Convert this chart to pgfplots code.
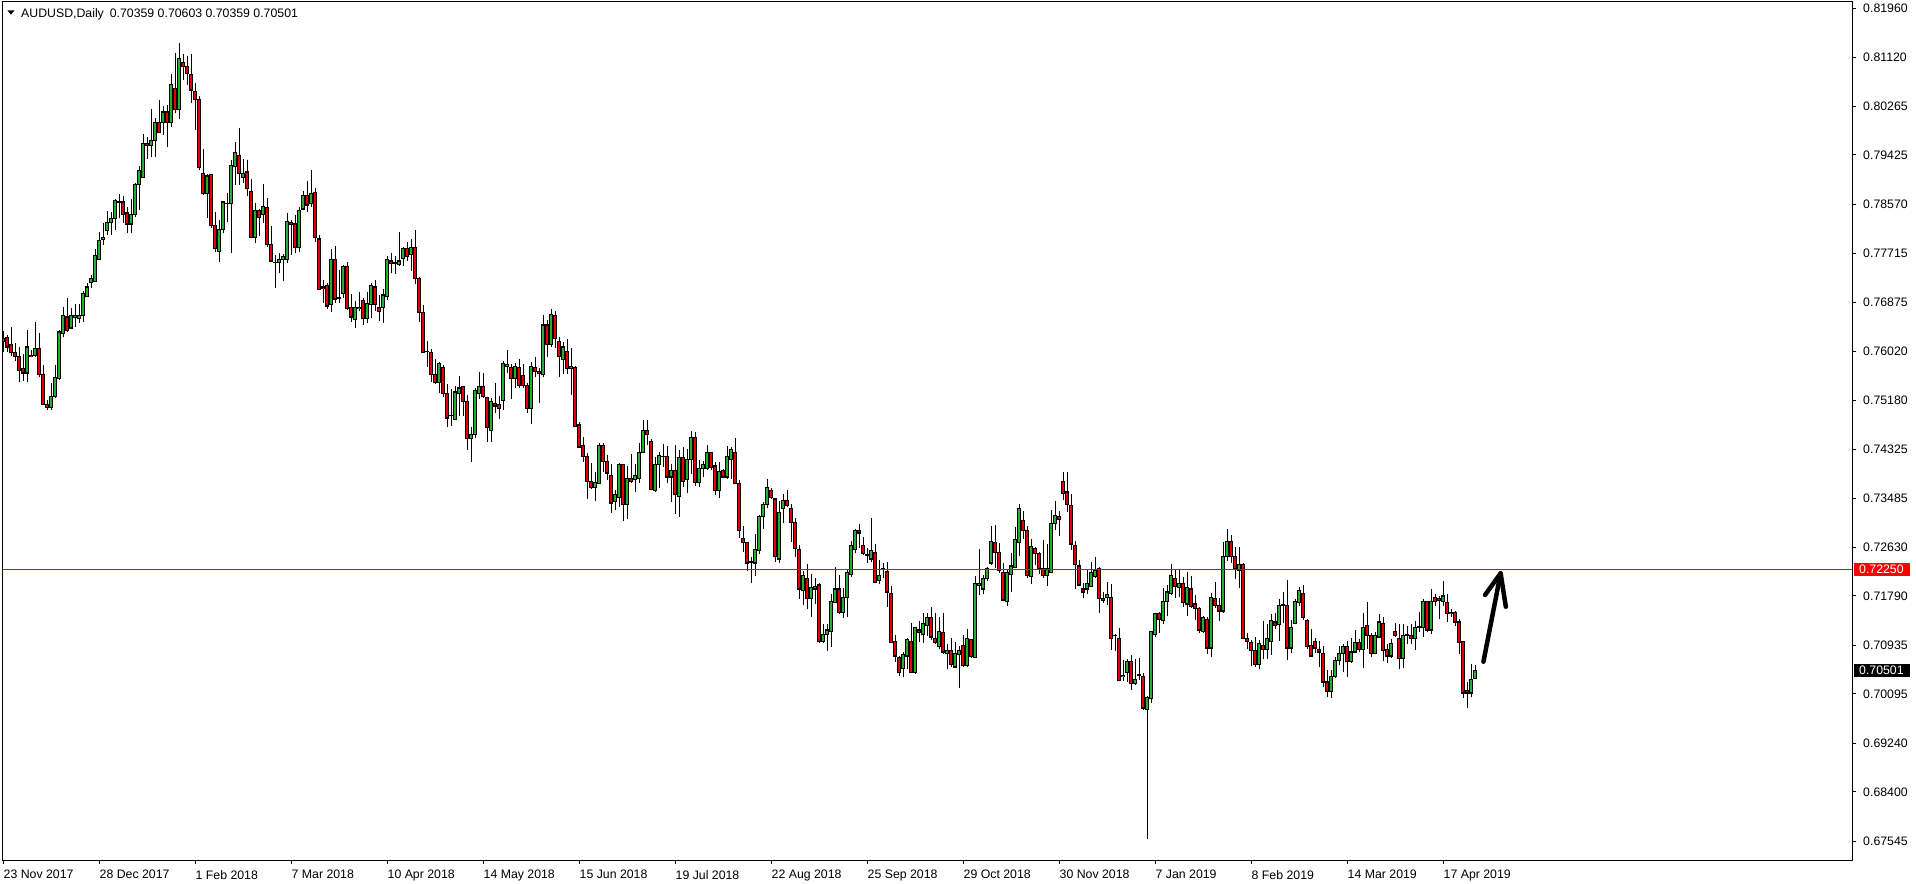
\documentclass[border=0pt]{standalone}
\usepackage{fontspec}
\setmainfont{Liberation Sans}
\usepackage{pgfplots}
\pgfplotsset{compat=1.18}
\usepackage{pgfplotstable}
\definecolor{cgreen}{RGB}{40,175,40}
\definecolor{cred}{RGB}{228,0,0}
\newcommand\lab{\fontsize{12.3bp}{14bp}\selectfont}
\pgfplotstableread{
i o h l c
0 0.7620 0.7638 0.7601 0.7624
1 0.7626 0.7631 0.7601 0.7610
2 0.7615 0.7645 0.7594 0.7601
3 0.7601 0.7617 0.7586 0.7593
4 0.7593 0.7610 0.7549 0.7570
5 0.7572 0.7598 0.7551 0.7565
6 0.7565 0.7640 0.7549 0.7610
7 0.7596 0.7605 0.7593 0.7594
8 0.7596 0.7653 0.7593 0.7608
9 0.7608 0.7634 0.7558 0.7562
10 0.7562 0.7579 0.7510 0.7511
11 0.7511 0.7518 0.7501 0.7506
12 0.7506 0.7548 0.7501 0.7525
13 0.7524 0.7579 0.7522 0.7558
14 0.7556 0.7640 0.7553 0.7636
15 0.7634 0.7679 0.7627 0.7664
16 0.7662 0.7695 0.7636 0.7638
17 0.7643 0.7678 0.7641 0.7665
18 0.7662 0.7685 0.7645 0.7664
19 0.7660 0.7685 0.7652 0.7665
20 0.7664 0.7707 0.7653 0.7702
21 0.7698 0.7721 0.7697 0.7714
22 0.7721 0.7735 0.7712 0.7728
23 0.7724 0.7780 0.7723 0.7769
24 0.7762 0.7809 0.7762 0.7795
25 0.7797 0.7825 0.7787 0.7799
26 0.7811 0.7846 0.7804 0.7826
27 0.7825 0.7844 0.7804 0.7833
28 0.7833 0.7866 0.7813 0.7863
29 0.7861 0.7875 0.7833 0.7862
30 0.7861 0.7871 0.7825 0.7840
31 0.7842 0.7852 0.7807 0.7823
32 0.7823 0.7866 0.7807 0.7840
33 0.7840 0.7894 0.7835 0.7891
34 0.7891 0.7923 0.7847 0.7915
35 0.7904 0.7979 0.7904 0.7963
36 0.7963 0.7974 0.7936 0.7958
37 0.7958 0.8022 0.7939 0.7968
38 0.7968 0.8007 0.7939 0.7998
39 0.7998 0.8038 0.7981 0.7982
40 0.7998 0.8027 0.7977 0.8017
41 0.8017 0.8029 0.7956 0.7998
42 0.7998 0.8083 0.7991 0.8065
43 0.8057 0.8119 0.8015 0.8022
44 0.8022 0.8136 0.8005 0.8109
45 0.8102 0.8117 0.8072 0.8095
46 0.8095 0.8114 0.8064 0.8084
47 0.8081 0.8117 0.8032 0.8055
48 0.8053 0.8067 0.7986 0.8039
49 0.8039 0.8045 0.7917 0.7920
50 0.7911 0.7953 0.7873 0.7875
51 0.7875 0.7910 0.7833 0.7906
52 0.7908 0.7910 0.7816 0.7820
53 0.7821 0.7844 0.7775 0.7781
54 0.7775 0.7830 0.7757 0.7813
55 0.7814 0.7863 0.7807 0.7861
56 0.7858 0.7877 0.7826 0.7859
57 0.7858 0.7934 0.7773 0.7925
58 0.7922 0.7965 0.7891 0.7946
59 0.7942 0.7989 0.7891 0.7910
60 0.7904 0.7936 0.7894 0.7911
61 0.7913 0.7934 0.7871 0.7884
62 0.7880 0.7901 0.7799 0.7800
63 0.7800 0.7859 0.7790 0.7846
64 0.7846 0.7849 0.7802 0.7835
65 0.7840 0.7892 0.7825 0.7854
66 0.7852 0.7868 0.7783 0.7787
67 0.7788 0.7820 0.7758 0.7759
68 0.7757 0.7769 0.7712 0.7756
69 0.7756 0.7773 0.7738 0.7762
70 0.7762 0.7771 0.7724 0.7766
71 0.7762 0.7842 0.7756 0.7828
72 0.7825 0.7830 0.7769 0.7823
73 0.7823 0.7839 0.7773 0.7783
74 0.7783 0.7852 0.7775 0.7846
75 0.7849 0.7880 0.7849 0.7873
76 0.7873 0.7898 0.7844 0.7856
77 0.7858 0.7917 0.7852 0.7875
78 0.7877 0.7885 0.7792 0.7799
79 0.7797 0.7804 0.7709 0.7710
80 0.7714 0.7726 0.7686 0.7712
81 0.7716 0.7721 0.7676 0.7681
82 0.7683 0.7780 0.7671 0.7762
83 0.7762 0.7785 0.7686 0.7693
84 0.7695 0.7743 0.7686 0.7694
85 0.7702 0.7752 0.7695 0.7749
86 0.7749 0.7757 0.7674 0.7676
87 0.7679 0.7702 0.7653 0.7662
88 0.7657 0.7690 0.7643 0.7678
89 0.7676 0.7705 0.7672 0.7679
90 0.7690 0.7695 0.7648 0.7660
91 0.7659 0.7705 0.7652 0.7685
92 0.7683 0.7721 0.7660 0.7716
93 0.7714 0.7726 0.7672 0.7683
94 0.7679 0.7700 0.7655 0.7671
95 0.7678 0.7710 0.7652 0.7700
96 0.7697 0.7768 0.7691 0.7762
97 0.7759 0.7773 0.7738 0.7754
98 0.7756 0.7768 0.7736 0.7755
99 0.7752 0.7809 0.7750 0.7759
100 0.7764 0.7783 0.7750 0.7781
101 0.7780 0.7792 0.7759 0.7766
102 0.7771 0.7797 0.7742 0.7783
103 0.7783 0.7813 0.7719 0.7728
104 0.7729 0.7731 0.7653 0.7669
105 0.7669 0.7683 0.7600 0.7601
106 0.7603 0.7620 0.7575 0.7602
107 0.7601 0.7607 0.7549 0.7563
108 0.7563 0.7589 0.7546 0.7549
109 0.7549 0.7584 0.7530 0.7581
110 0.7575 0.7579 0.7524 0.7529
111 0.7529 0.7546 0.7472 0.7487
112 0.7491 0.7537 0.7473 0.7492
113 0.7485 0.7543 0.7484 0.7532
114 0.7530 0.7560 0.7491 0.7539
115 0.7541 0.7543 0.7491 0.7515
116 0.7515 0.7527 0.7432 0.7451
117 0.7451 0.7472 0.7411 0.7459
118 0.7459 0.7539 0.7452 0.7534
119 0.7529 0.7567 0.7520 0.7541
120 0.7541 0.7565 0.7522 0.7524
121 0.7522 0.7524 0.7446 0.7470
122 0.7466 0.7522 0.7446 0.7515
123 0.7513 0.7548 0.7496 0.7508
124 0.7511 0.7525 0.7485 0.7504
125 0.7517 0.7586 0.7501 0.7582
126 0.7577 0.7605 0.7565 0.7579
127 0.7575 0.7581 0.7520 0.7556
128 0.7556 0.7582 0.7539 0.7577
129 0.7575 0.7589 0.7539 0.7544
130 0.7560 0.7581 0.7539 0.7543
131 0.7544 0.7548 0.7496 0.7504
132 0.7504 0.7584 0.7477 0.7577
133 0.7574 0.7593 0.7558 0.7567
134 0.7567 0.7574 0.7513 0.7565
135 0.7563 0.7665 0.7558 0.7648
136 0.7648 0.7657 0.7593 0.7615
137 0.7615 0.7676 0.7610 0.7667
138 0.7665 0.7672 0.7608 0.7624
139 0.7619 0.7627 0.7558 0.7594
140 0.7589 0.7619 0.7563 0.7610
141 0.7603 0.7624 0.7563 0.7572
142 0.7572 0.7608 0.7527 0.7577
143 0.7575 0.7577 0.7472 0.7473
144 0.7475 0.7480 0.7436 0.7437
145 0.7439 0.7454 0.7411 0.7421
146 0.7421 0.7427 0.7347 0.7378
147 0.7378 0.7409 0.7365 0.7366
148 0.7366 0.7394 0.7343 0.7376
149 0.7373 0.7444 0.7372 0.7440
150 0.7440 0.7444 0.7394 0.7411
151 0.7411 0.7423 0.7380 0.7392
152 0.7388 0.7407 0.7323 0.7340
153 0.7342 0.7362 0.7328 0.7354
154 0.7350 0.7409 0.7333 0.7406
155 0.7406 0.7408 0.7309 0.7338
156 0.7338 0.7404 0.7312 0.7383
157 0.7383 0.7425 0.7375 0.7378
158 0.7380 0.7407 0.7359 0.7387
159 0.7383 0.7444 0.7375 0.7428
160 0.7428 0.7484 0.7427 0.7465
161 0.7465 0.7484 0.7440 0.7458
162 0.7446 0.7450 0.7362 0.7364
163 0.7362 0.7420 0.7359 0.7407
164 0.7407 0.7428 0.7366 0.7423
165 0.7420 0.7442 0.7402 0.7421
166 0.7420 0.7439 0.7375 0.7385
167 0.7385 0.7407 0.7342 0.7397
168 0.7397 0.7440 0.7321 0.7354
169 0.7352 0.7432 0.7316 0.7418
170 0.7418 0.7437 0.7368 0.7378
171 0.7380 0.7433 0.7357 0.7416
172 0.7416 0.7465 0.7390 0.7454
173 0.7454 0.7463 0.7369 0.7375
174 0.7375 0.7414 0.7368 0.7400
175 0.7399 0.7413 0.7385 0.7407
176 0.7400 0.7440 0.7397 0.7428
177 0.7427 0.7428 0.7397 0.7402
178 0.7404 0.7411 0.7354 0.7361
179 0.7361 0.7411 0.7349 0.7395
180 0.7397 0.7399 0.7384 0.7385
181 0.7385 0.7439 0.7382 0.7420
182 0.7416 0.7437 0.7382 0.7432
183 0.7428 0.7452 0.7372 0.7373
184 0.7373 0.7380 0.7279 0.7292
185 0.7279 0.7300 0.7255 0.7272
186 0.7271 0.7272 0.7222 0.7236
187 0.7238 0.7247 0.7201 0.7237
188 0.7236 0.7286 0.7214 0.7260
189 0.7257 0.7319 0.7252 0.7316
190 0.7316 0.7342 0.7295 0.7338
191 0.7338 0.7382 0.7331 0.7366
192 0.7361 0.7366 0.7347 0.7350
193 0.7347 0.7349 0.7238 0.7247
194 0.7243 0.7343 0.7236 0.7324
195 0.7331 0.7356 0.7305 0.7345
196 0.7345 0.7362 0.7333 0.7335
197 0.7331 0.7338 0.7272 0.7307
198 0.7307 0.7314 0.7247 0.7262
199 0.7260 0.7267 0.7174 0.7191
200 0.7189 0.7222 0.7163 0.7214
201 0.7210 0.7234 0.7156 0.7174
202 0.7175 0.7217 0.7143 0.7193
203 0.7191 0.7210 0.7165 0.7196
204 0.7198 0.7201 0.7098 0.7101
205 0.7101 0.7131 0.7098 0.7113
206 0.7113 0.7131 0.7084 0.7120
207 0.7117 0.7182 0.7091 0.7170
208 0.7167 0.7229 0.7167 0.7191
209 0.7191 0.7215 0.7148 0.7150
210 0.7151 0.7193 0.7141 0.7177
211 0.7177 0.7224 0.7143 0.7219
212 0.7217 0.7274 0.7212 0.7266
213 0.7260 0.7295 0.7253 0.7292
214 0.7292 0.7304 0.7262 0.7288
215 0.7266 0.7281 0.7250 0.7252
216 0.7250 0.7262 0.7236 0.7249
217 0.7243 0.7314 0.7238 0.7257
218 0.7255 0.7269 0.7201 0.7203
219 0.7205 0.7241 0.7200 0.7215
220 0.7226 0.7236 0.7210 0.7225
221 0.7222 0.7238 0.7160 0.7186
222 0.7184 0.7196 0.7098 0.7099
223 0.7101 0.7111 0.7065 0.7075
224 0.7073 0.7075 0.7040 0.7047
225 0.7054 0.7082 0.7039 0.7077
226 0.7075 0.7106 0.7052 0.7103
227 0.7101 0.7132 0.7046 0.7047
228 0.7046 0.7125 0.7044 0.7124
229 0.7120 0.7136 0.7099 0.7115
230 0.7113 0.7150 0.7098 0.7131
231 0.7127 0.7150 0.7110 0.7141
232 0.7141 0.7160 0.7103 0.7108
233 0.7106 0.7150 0.7096 0.7098
234 0.7091 0.7143 0.7087 0.7118
235 0.7115 0.7150 0.7079 0.7082
236 0.7080 0.7096 0.7052 0.7085
237 0.7084 0.7106 0.7056 0.7061
238 0.7056 0.7099 0.7054 0.7079
239 0.7077 0.7092 0.7020 0.7085
240 0.7094 0.7111 0.7056 0.7059
241 0.7058 0.7122 0.7056 0.7105
242 0.7103 0.7105 0.7072 0.7074
243 0.7073 0.7214 0.7072 0.7200
244 0.7198 0.7260 0.7181 0.7200
245 0.7191 0.7215 0.7182 0.7210
246 0.7210 0.7229 0.7205 0.7227
247 0.7236 0.7300 0.7233 0.7274
248 0.7272 0.7302 0.7227 0.7255
249 0.7255 0.7271 0.7219 0.7224
250 0.7219 0.7236 0.7170 0.7172
251 0.7169 0.7226 0.7162 0.7219
252 0.7217 0.7253 0.7186 0.7231
253 0.7229 0.7298 0.7227 0.7276
254 0.7272 0.7338 0.7248 0.7330
255 0.7310 0.7326 0.7278 0.7292
256 0.7293 0.7300 0.7210 0.7214
257 0.7212 0.7278 0.7200 0.7264
258 0.7262 0.7264 0.7233 0.7252
259 0.7252 0.7255 0.7217 0.7227
260 0.7227 0.7276 0.7210 0.7215
261 0.7215 0.7269 0.7196 0.7226
262 0.7220 0.7328 0.7219 0.7305
263 0.7305 0.7343 0.7293 0.7319
264 0.7317 0.7326 0.7283 0.7312
265 0.7378 0.7394 0.7345 0.7357
266 0.7359 0.7394 0.7324 0.7338
267 0.7336 0.7356 0.7259 0.7269
268 0.7267 0.7274 0.7191 0.7234
269 0.7231 0.7241 0.7196 0.7198
270 0.7191 0.7201 0.7175 0.7186
271 0.7191 0.7224 0.7182 0.7201
272 0.7196 0.7238 0.7194 0.7219
273 0.7212 0.7247 0.7210 0.7224
274 0.7226 0.7229 0.7150 0.7175
275 0.7175 0.7186 0.7167 0.7172
276 0.7177 0.7203 0.7163 0.7182
277 0.7177 0.7200 0.7085 0.7106
278 0.7110 0.7113 0.7084 0.7111
279 0.7106 0.7124 0.7031 0.7032
280 0.7040 0.7068 0.7032 0.7042
281 0.7047 0.7070 0.7030 0.7066
282 0.7065 0.7077 0.7016 0.7028
283 0.7027 0.7070 0.7025 0.7035
284 0.7042 0.7072 0.7034 0.7043
285 0.7040 0.7046 0.6982 0.6985
286 0.6983 0.7006 0.6758 0.7004
287 0.7002 0.7118 0.6994 0.7117
288 0.7113 0.7150 0.7108 0.7148
289 0.7148 0.7151 0.7115 0.7139
290 0.7136 0.7193 0.7131 0.7170
291 0.7169 0.7198 0.7144 0.7186
292 0.7184 0.7234 0.7181 0.7214
293 0.7210 0.7224 0.7175 0.7196
294 0.7193 0.7226 0.7177 0.7201
295 0.7200 0.7212 0.7160 0.7167
296 0.7165 0.7220 0.7144 0.7193
297 0.7191 0.7214 0.7158 0.7160
298 0.7165 0.7181 0.7137 0.7158
299 0.7158 0.7160 0.7115 0.7120
300 0.7118 0.7144 0.7115 0.7141
301 0.7139 0.7143 0.7079 0.7089
302 0.7089 0.7184 0.7073 0.7177
303 0.7175 0.7203 0.7158 0.7162
304 0.7163 0.7175 0.7136 0.7153
305 0.7153 0.7272 0.7150 0.7247
306 0.7247 0.7295 0.7240 0.7274
307 0.7274 0.7285 0.7236 0.7247
308 0.7247 0.7264 0.7208 0.7226
309 0.7224 0.7264 0.7193 0.7234
310 0.7234 0.7236 0.7105 0.7106
311 0.7106 0.7115 0.7087 0.7101
312 0.7099 0.7103 0.7058 0.7085
313 0.7085 0.7108 0.7056 0.7061
314 0.7061 0.7103 0.7052 0.7096
315 0.7094 0.7136 0.7070 0.7087
316 0.7087 0.7131 0.7070 0.7105
317 0.7101 0.7148 0.7077 0.7137
318 0.7134 0.7150 0.7122 0.7127
319 0.7129 0.7174 0.7101 0.7163
320 0.7163 0.7186 0.7132 0.7164
321 0.7163 0.7207 0.7068 0.7089
322 0.7089 0.7137 0.7080 0.7124
323 0.7132 0.7174 0.7131 0.7169
324 0.7167 0.7194 0.7162 0.7188
325 0.7184 0.7198 0.7137 0.7141
326 0.7136 0.7139 0.7087 0.7091
327 0.7094 0.7122 0.7073 0.7075
328 0.7101 0.7106 0.7080 0.7089
329 0.7087 0.7101 0.7056 0.7082
330 0.7080 0.7092 0.7021 0.7030
331 0.7030 0.7051 0.7004 0.7013
332 0.7013 0.7051 0.7002 0.7040
333 0.7039 0.7073 0.7037 0.7068
334 0.7068 0.7092 0.7059 0.7079
335 0.7080 0.7096 0.7047 0.7091
336 0.7092 0.7101 0.7039 0.7065
337 0.7065 0.7106 0.7063 0.7082
338 0.7082 0.7120 0.7080 0.7099
339 0.7099 0.7105 0.7082 0.7087
340 0.7087 0.7150 0.7054 0.7125
341 0.7127 0.7169 0.7087 0.7110
342 0.7111 0.7115 0.7073 0.7079
343 0.7080 0.7117 0.7079 0.7110
344 0.7108 0.7148 0.7108 0.7134
345 0.7132 0.7143 0.7066 0.7084
346 0.7087 0.7096 0.7063 0.7075
347 0.7075 0.7105 0.7072 0.7096
348 0.7117 0.7132 0.7108 0.7111
349 0.7106 0.7131 0.7052 0.7070
350 0.7070 0.7131 0.7054 0.7111
351 0.7111 0.7127 0.7096 0.7112
352 0.7111 0.7131 0.7096 0.7105
353 0.7105 0.7136 0.7085 0.7125
354 0.7125 0.7151 0.7117 0.7126
355 0.7124 0.7174 0.7108 0.7170
356 0.7169 0.7170 0.7117 0.7120
357 0.7120 0.7191 0.7113 0.7170
358 0.7177 0.7182 0.7162 0.7170
359 0.7174 0.7179 0.7139 0.7172
360 0.7170 0.7205 0.7162 0.7179
361 0.7167 0.7182 0.7134 0.7148
362 0.7150 0.7156 0.7143 0.7148
363 0.7150 0.7153 0.7127 0.7134
364 0.7134 0.7139 0.7079 0.7099
365 0.7101 0.7101 0.7002 0.7011
366 0.7016 0.7030 0.6985 0.7011
367 0.7011 0.7061 0.7004 0.7035
368 0.70359 0.70603 0.70359 0.70501
}\data
% build one path per layer (wicks, body outlines, up fills, down fills)
\def\wicks{}\def\bodies{}\def\ups{}\def\downs{}
\pgfplotstablegetrowsof{\data}
\pgfmathtruncatemacro\lastrow{\pgfplotsretval-1}
\pgfplotsforeachungrouped \r in {0,...,\lastrow}{%
  \pgfplotstablegetelem{\r}{o}\of\data\let\cO\pgfplotsretval
  \pgfplotstablegetelem{\r}{h}\of\data\let\cH\pgfplotsretval
  \pgfplotstablegetelem{\r}{l}\of\data\let\cL\pgfplotsretval
  \pgfplotstablegetelem{\r}{c}\of\data\let\cC\pgfplotsretval
  \xdef\wicks{\wicks(\r,\cL)(\r,\cH)(\r,nan)}%
  \ifdim\cC pt<\cO pt \let\cLo\cC\let\cHi\cO \else \let\cLo\cO\let\cHi\cC \fi
  \pgfmathsetmacro\bTop{\cHi+0.00009}%
  \pgfmathsetmacro\bBot{\cLo-0.00009}%
  \xdef\bodies{\bodies(\r,\bBot)(\r,\bTop)(\r,nan)}%
  \pgfmathsetmacro\fTop{\cHi-0.00009}%
  \pgfmathsetmacro\fBot{\cLo+0.00009}%
  \ifdim\fTop pt>\fBot pt
    \ifdim\cC pt>\cO pt
      \xdef\ups{\ups(\r,\fBot)(\r,\fTop)(\r,nan)}%
    \else
      \xdef\downs{\downs(\r,\fBot)(\r,\fTop)(\r,nan)}%
    \fi
  \fi
}
\edef\plotwicks{\noexpand\addplot[black, line width=1bp, unbounded coords=jump, mark=none, forget plot] coordinates {\wicks};}
\edef\plotbodies{\noexpand\addplot[black, line width=3.2bp, unbounded coords=jump, mark=none, forget plot] coordinates {\bodies};}
\edef\plotups{\noexpand\addplot[cgreen, line width=1.4bp, unbounded coords=jump, mark=none, forget plot] coordinates {\ups};}
\edef\plotdowns{\noexpand\addplot[cred, line width=1.4bp, unbounded coords=jump, mark=none, forget plot] coordinates {\downs};}
\begin{document}
\begin{tikzpicture}
\path[use as bounding box] (0,0) rectangle (1916bp,884bp);
\fill[white] (0,0) rectangle (1916bp,884bp);
\begin{axis}[
  at={(2.5bp,24bp)}, anchor=south west,
  scale only axis, width=1849.5bp, height=858.5bp,
  xmin=-0.125, xmax=462.25, ymin=0.67219, ymax=0.82082,
  axis line style={line width=1bp, black},
  axis on top,
  xtick={0,24,...,360},
  xticklabels={23 Nov 2017,28 Dec 2017,1 Feb 2018,7 Mar 2018,10 Apr 2018,14 May 2018,15 Jun 2018,19 Jul 2018,22 Aug 2018,25 Sep 2018,29 Oct 2018,30 Nov 2018,7 Jan 2019,8 Feb 2019,14 Mar 2019,17 Apr 2019},
  ytick={0.81960,0.81120,0.80265,0.79425,0.78570,0.77715,0.76875,0.76020,0.75180,0.74325,0.73485,0.72630,0.71790,0.70935,0.70095,0.69240,0.68400,0.67545},
  yticklabels={0.81960,0.81120,0.80265,0.79425,0.78570,0.77715,0.76875,0.76020,0.75180,0.74325,0.73485,0.72630,0.71790,0.70935,0.70095,0.69240,0.68400,0.67545},
  xtick pos=bottom, ytick pos=right, yticklabel pos=right,
  tick align=outside, major tick length=4bp,
  tick style={line width=1bp, black},
  xticklabel style={anchor=north west, inner sep=0pt, yshift=-6bp, xshift=0.5bp, font=\lab},
  yticklabel style={anchor=west, inner sep=0pt, xshift=7bp, font=\lab},
]
\plotwicks
\plotbodies
\plotups
\plotdowns
\addplot[red, line width=1bp, forget plot] coordinates {(-5,0.72250) (470,0.72250)};
\draw[line width=4.5bp, line cap=round, line join=round, black] (axis cs:370.1,0.70652) -- (axis cs:374.4,0.72182);
\draw[line width=4.5bp, line cap=round, line join=round, black] (axis cs:370.5,0.71807) -- (axis cs:374.4,0.72182) -- (axis cs:375.7,0.71604);
\end{axis}
\fill[black] (7.5bp,873.5bp) -- (14.5bp,873.5bp) -- (11bp,869.3bp) -- cycle;
\node[anchor=base west, inner sep=0pt, font=\lab] at (21bp,866.7bp) {AUDUSD,Daily\hspace{6bp}0.70359 0.70603 0.70359 0.70501};
\fill[red] (1854bp,307.9bp) rectangle (1910bp,321.3bp);
\node[anchor=west, inner sep=0pt, font=\lab, text=white] at (1859bp,314.6bp) {0.72250};
\fill[black] (1854bp,206.9bp) rectangle (1910bp,220.3bp);
\node[anchor=west, inner sep=0pt, font=\lab, text=white] at (1859bp,213.6bp) {0.70501};
\end{tikzpicture}
\end{document}
